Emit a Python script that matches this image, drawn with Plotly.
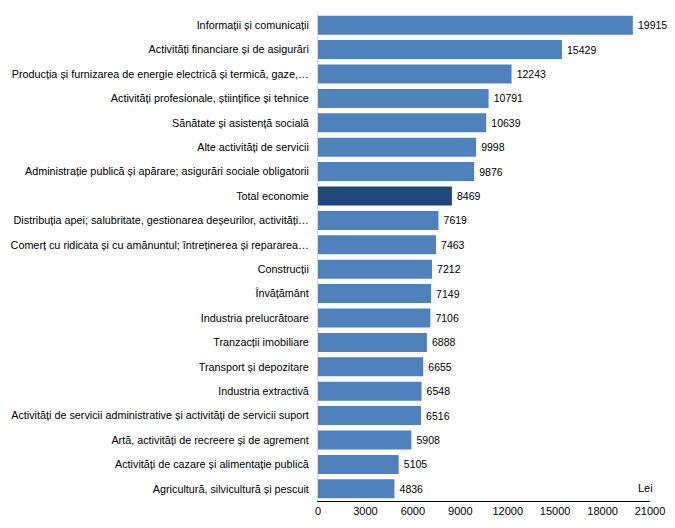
import plotly.graph_objects as go

categorii = [
    'Informații și comunicații',
    'Activități financiare și de asigurări',
    'Producția și furnizarea de energie electrică și termică, gaze,…',
    'Activități profesionale, științifice și tehnice',
    'Sănătate și asistență socială',
    'Alte activități de servicii',
    'Administrație publică și apărare; asigurări sociale obligatorii',
    'Total economie',
    'Distribuția apei; salubritate, gestionarea deșeurilor, activități…',
    'Comerț cu ridicata și cu amănuntul; întreținerea și repararea…',
    'Construcții',
    'Învățământ',
    'Industria prelucrătoare',
    'Tranzacții imobiliare',
    'Transport și depozitare',
    'Industria extractivă',
    'Activități de servicii administrative și activități de servicii suport',
    'Artă, activități de recreere și de agrement',
    'Activități de cazare și alimentație publică',
    'Agricultură, silvicultură și pescuit',
]

valori = [19915, 15429, 12243, 10791, 10639, 9998, 9876, 8469, 7619, 7463,
          7212, 7149, 7106, 6888, 6655, 6548, 6516, 5908, 5105, 4836]

culori = ['#1F497D' if c == 'Total economie' else '#4F81BD' for c in categorii]

fig = go.Figure()

fig.add_trace(go.Bar(
    x=valori,
    y=categorii,
    orientation='h',
    marker=dict(color=culori, line=dict(width=0)),
    text=valori,
    texttemplate='\u2009%{x}',
    textposition='outside',
    textfont=dict(size=10.5, color='#000000'),
    cliponaxis=False,
))

fig.add_annotation(
    text='Lei', xref='paper', yref='paper',
    x=0.985, y=0.027, xanchor='center', yanchor='middle',
    showarrow=False, font=dict(size=11, color='#000000'),
)

# layout (page body has an 8px margin, keep the page from scrolling)
fig.update_layout(
    width=659, height=512,
    margin=dict(l=310, r=17, t=5, b=19),
    plot_bgcolor='white', paper_bgcolor='white',
    font=dict(family='Liberation Sans, Arial, sans-serif', size=11, color='#000000'),
    bargap=0.22,
    showlegend=False,
    xaxis=dict(
        range=[0, 21000], dtick=3000, tickformat='d',
        showgrid=False, zeroline=False, automargin=False,
        showline=True, linecolor='#000000', linewidth=1,
        ticks='', tickfont=dict(size=11),
    ),
    yaxis=dict(
        autorange='reversed', automargin=False,
        showgrid=False, zeroline=False,
        showline=True, linecolor='#D9D9D9', linewidth=1,
        ticks='outside', ticklen=6, tickcolor='rgba(0,0,0,0)',
        tickfont=dict(size=10.8),
    ),
)

fig.write_html('out.html')
